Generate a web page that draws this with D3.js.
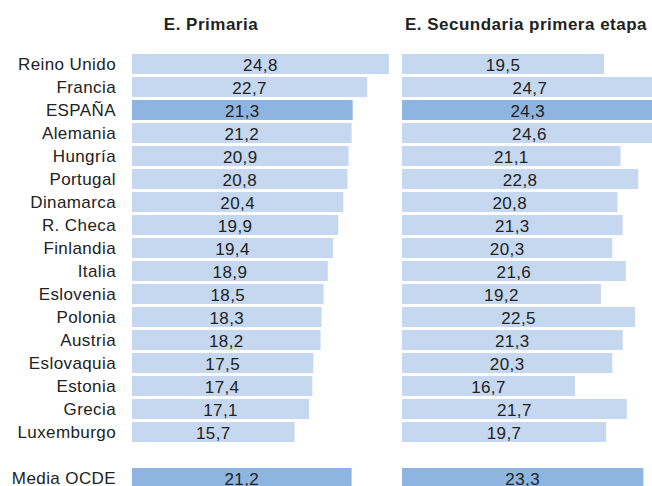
<!DOCTYPE html>
<html>
    <head>
        <meta charset="utf-8">
        <script src="https://d3js.org/d3.v7.min.js"></script>
        <style>
            body { margin:0; background:#fff; }
            svg { display:block; }
            text { font-family:"Liberation Sans", Arial, sans-serif; fill:#222; }
            .title { font-size:17px; font-weight:bold; letter-spacing:0.5px; }
            .country { font-size:17px; letter-spacing:0.4px; }
            .value { font-size:17px; letter-spacing:0.4px; }
        </style>
    </head>
    <body>
        <svg id="chart" width="652" height="486"></svg>
    </body>
    <script>
        // data
        const countries = ['Reino Unido','Francia','ESPAÑA','Alemania','Hungría','Portugal','Dinamarca',
            'R. Checa','Finlandia','Italia','Eslovenia','Polonia','Austria','Eslovaquia','Estonia','Grecia',
            'Luxemburgo','','Media OCDE'];
        const primaria = [24.8,22.7,21.3,21.2,20.9,20.8,20.4,19.9,19.4,18.9,18.5,18.3,18.2,17.5,17.4,17.1,15.7,null,21.2];
        const secundaria = [19.5,24.7,24.3,24.6,21.1,22.8,20.8,21.3,20.3,21.6,19.2,22.5,21.3,20.3,16.7,21.7,19.7,null,23.3];
        const highlight = ['ESPAÑA','Media OCDE'];
        const titles = ['E. Primaria','E. Secundaria primera etapa'];

        const svg = d3.select('#chart');
        const fmt = v => d3.format('.1f')(v).replace('.', ',');

        // one band per row, the empty name is the gap before the OECD average
        const yScale = d3.scaleBand()
            .domain(countries.map((c, i) => i))
            .range([54, 488])
            .paddingInner(3/23)
            .paddingOuter(0);

        const xScale = d3.scaleLinear().domain([0, 25]).range([0, 259]);

        // country labels
        svg.append('g').selectAll('text')
            .data(countries)
            .enter().append('text')
            .attr('class','country')
            .attr('x', 116)
            .attr('y', (d, i) => yScale(i) + 16)
            .attr('text-anchor','end')
            .text(d => d);

        const panels = [
            { x: 132, cx: 211, values: primaria, title: titles[0] },
            { x: 402, cx: 526, values: secundaria, title: titles[1] }
        ];

        panels.forEach(p => {
            const g = svg.append('g').attr('transform', `translate(${p.x},0)`);
            const rows = p.values.map((v, i) => ({ v: v, i: i, c: countries[i] })).filter(d => d.v !== null);

            g.selectAll('rect')
                .data(rows)
                .enter().append('rect')
                .attr('x', 0)
                .attr('y', d => yScale(d.i))
                .attr('height', yScale.bandwidth())
                .attr('width', d => xScale(d.v))
                .attr('fill', d => highlight.includes(d.c) ? '#8eb4e0' : '#c5d8ef');

            g.selectAll('text.value')
                .data(rows)
                .enter().append('text')
                .attr('class','value')
                .attr('x', d => xScale(d.v) / 2)
                .attr('y', d => yScale(d.i) + 17)
                .attr('text-anchor','middle')
                .text(d => fmt(d.v));

            svg.append('text')
                .attr('class','title')
                .attr('x', p.cx)
                .attr('y', 30)
                .attr('text-anchor','middle')
                .text(p.title);
        });
    </script>
</html>
